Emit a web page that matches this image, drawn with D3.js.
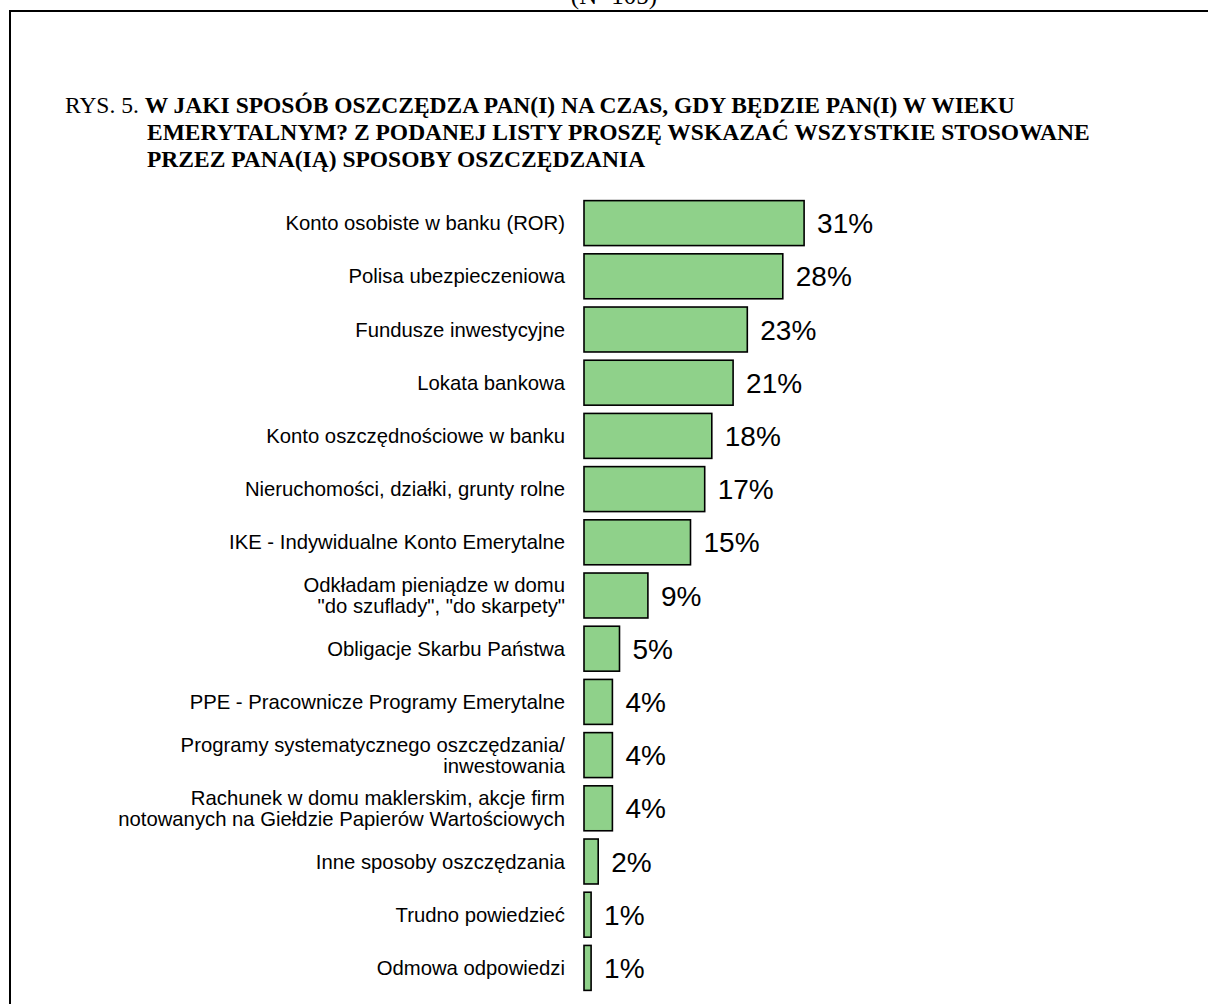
<!DOCTYPE html>
<html>
<head>
<meta charset="utf-8">
<script src="https://cdn.jsdelivr.net/npm/d3@7"></script>
<style>
  html, body { margin: 0; padding: 0; background: #fff; }
  svg { display: block; }
</style>
</head>
<body>
<script>
const categories = [
  ["Konto osobiste w banku (ROR)"],
  ["Polisa ubezpieczeniowa"],
  ["Fundusze inwestycyjne"],
  ["Lokata bankowa"],
  ["Konto oszczędnościowe w banku"],
  ["Nieruchomości, działki, grunty rolne"],
  ["IKE - Indywidualne Konto Emerytalne"],
  ["Odkładam pieniądze w domu", "\"do szuflady\", \"do skarpety\""],
  ["Obligacje Skarbu Państwa"],
  ["PPE - Pracownicze Programy Emerytalne"],
  ["Programy systematycznego oszczędzania/", "inwestowania"],
  ["Rachunek w domu maklerskim, akcje firm", "notowanych na Giełdzie Papierów Wartościowych"],
  ["Inne sposoby oszczędzania"],
  ["Trudno powiedzieć"],
  ["Odmowa odpowiedzi"]
];
const values = [31, 28, 23, 21, 18, 17, 15, 9, 5, 4, 4, 4, 2, 1, 1];
const valueLabels = ["31%", "28%", "23%", "21%", "18%", "17%", "15%", "9%", "5%", "4%", "4%", "4%", "2%", "1%", "1%"];
const titleLines = [
  "W JAKI SPOSÓB OSZCZĘDZA PAN(I) NA CZAS, GDY BĘDZIE PAN(I) W WIEKU",
  "EMERYTALNYM? Z PODANEJ LISTY PROSZĘ WSKAZAĆ WSZYSTKIE STOSOWANE",
  "PRZEZ PANA(IĄ) SPOSOBY OSZCZĘDZANIA"
];
const titlePrefix = "RYS. 5. ";
const topNote = "(N=105)";

const W = 1208, H = 1004;
const svg = d3.select("body").append("svg").attr("width", W).attr("height", H);

// frame
svg.append("line").attr("x1", 9).attr("x2", W).attr("y1", 11).attr("y2", 11)
  .attr("stroke", "#000").attr("stroke-width", 2);
svg.append("line").attr("x1", 10).attr("x2", 10).attr("y1", 10).attr("y2", H)
  .attr("stroke", "#000").attr("stroke-width", 2);

const serif = "'Liberation Serif', 'Times New Roman', serif";

// note at top, cut off by the page edge as in the reference
svg.append("text").attr("x", 614).attr("y", 4).attr("text-anchor", "middle")
  .attr("font-family", serif).attr("font-size", 25).text(topNote);

// title
const titleSize = 23.5, titlePitch = 27, titleY = 113;
const t1 = svg.append("text").attr("x", 65).attr("y", titleY)
  .attr("font-family", serif).attr("font-size", titleSize).attr("fill", "#000");
t1.append("tspan").text(titlePrefix);
t1.append("tspan").attr("font-weight", "bold").text(titleLines[0]);
titleLines.slice(1).forEach((l, i) => {
  svg.append("text").attr("x", 147).attr("y", titleY + titlePitch * (i + 1))
    .attr("font-family", serif).attr("font-size", titleSize).attr("font-weight", "bold")
    .text(l);
});

const x = d3.scaleLinear().domain([0, 100]).range([584, 584 + 710]);
const y = d3.scaleBand().domain(d3.range(values.length))
  .range([196.5, 994.5]).paddingInner(0.155).paddingOuter(0.0775);

const sans = "'Liberation Sans', Arial, sans-serif";

const g = svg.append("g");
g.selectAll("rect").data(values).join("rect")
  .attr("x", x(0))
  .attr("y", (d, i) => y(i))
  .attr("width", d => x(d) - x(0))
  .attr("height", y.bandwidth())
  .attr("fill", "#8fd18a")
  .attr("stroke", "#000")
  .attr("stroke-width", 1.6);

g.selectAll("text.val").data(values).join("text")
  .attr("class", "val")
  .attr("x", d => x(d) + 13)
  .attr("y", (d, i) => y(i) + y.bandwidth() / 2 + 10)
  .attr("font-family", sans).attr("font-size", 28).attr("fill", "#000")
  .text((d, i) => valueLabels[i]);

categories.forEach((lines, i) => {
  const cy = y(i) + y.bandwidth() / 2;
  const lh = 21;
  const t = svg.append("text")
    .attr("text-anchor", "end")
    .attr("font-family", sans).attr("font-size", 20.3).attr("fill", "#000");
  lines.forEach((l, j) => {
    t.append("tspan").attr("x", 565)
      .attr("y", cy + 7 + (j - (lines.length - 1) / 2) * lh)
      .text(l);
  });
});
</script>
</body>
</html>
